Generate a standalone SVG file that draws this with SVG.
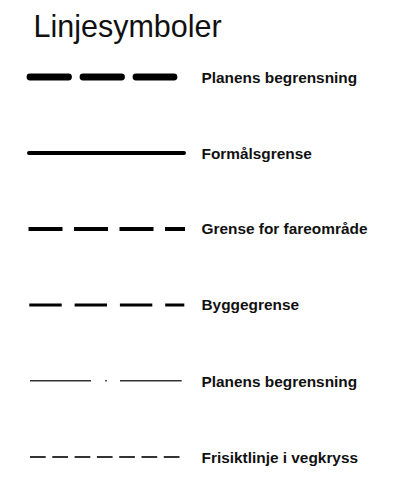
<svg xmlns="http://www.w3.org/2000/svg" width="398" height="484" viewBox="0 0 398 484">
<style>
.title{font-family:"Liberation Sans",Arial,sans-serif;font-size:30.5px;fill:#111}
.lbl{font-family:"Liberation Sans",Arial,sans-serif;font-size:15.4px;font-weight:bold;fill:#111}
.ln{fill:none}
</style>
<rect width="398" height="484" fill="#fff"/>
<text class="title" x="33.5" y="37">Linjesymboler</text>
<g id="connectors">
<line id="l1" class="ln" x1="30" y1="77" x2="174" y2="77" stroke="#000" stroke-width="6.8" stroke-linecap="round" stroke-dasharray="38.5 14.5"/>
<line id="l2" class="ln" x1="29" y1="153" x2="184" y2="153" stroke="#000" stroke-width="4" stroke-linecap="round"/>
<line id="l3" class="ln" x1="28.5" y1="229" x2="185" y2="229" stroke="#000" stroke-width="4.2" stroke-dasharray="34 11.5"/>
<line id="l4" class="ln" x1="29.3" y1="305" x2="184.3" y2="305" stroke="#000" stroke-width="3" stroke-dasharray="32.4 12.9"/>
<g id="l5">
<line class="ln" x1="30" y1="380.7" x2="91" y2="380.7" stroke="#333" stroke-width="1.6"/>
<rect x="105.2" y="379.9" width="1.6" height="1.6" fill="#333"/>
<line class="ln" x1="120" y1="380.7" x2="181.7" y2="380.7" stroke="#333" stroke-width="1.6"/>
</g>
<line id="l6" class="ln" x1="30" y1="457" x2="181.7" y2="457" stroke="#333" stroke-width="1.8" stroke-dasharray="15.7 6.6"/>
</g>
<g id="labels">
<text class="lbl" x="201.5" y="83">Planens begrensning</text>
<text class="lbl" x="201.5" y="159">Formålsgrense</text>
<text class="lbl" x="201.5" y="234">Grense for fareområde</text>
<text class="lbl" x="201.5" y="310">Byggegrense</text>
<text class="lbl" x="201.5" y="387">Planens begrensning</text>
<text class="lbl" x="201.5" y="463">Frisiktlinje i vegkryss</text>
</g>
</svg>
